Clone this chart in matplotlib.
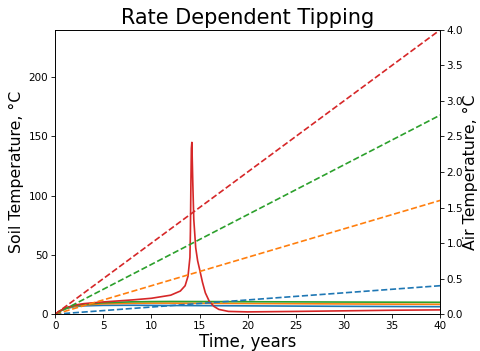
import numpy as np
import matplotlib.pyplot as plt

# soil temperature (left axis), one series per warming rate
t_soil = [0, 0.5, 1, 2, 3, 5, 8, 10, 12, 20, 30, 40]
soil_blue = [0, 2.5, 4.5, 6.3, 7.0, 7.4, 7.5, 7.4, 7.3, 7.0, 6.6, 6.3]
soil_orange = [0, 2.6, 4.7, 6.8, 7.8, 8.7, 9.2, 9.3, 9.3, 9.0, 8.6, 8.3]
soil_green = [0, 2.7, 4.9, 7.2, 8.4, 9.6, 10.4, 10.6, 10.7, 10.5, 10.2, 10.0]

t_red = [0, 0.5, 1, 2, 3, 5, 8, 10, 12, 13, 13.5, 13.8, 14.0, 14.05, 14.1, 14.15, 14.2,
         14.3, 14.4, 14.6, 14.8, 15.0, 15.3, 15.6, 16.0, 16.5, 17.0, 18.0, 20, 25, 30, 35, 40]
soil_red = [0, 2.8, 5.0, 7.6, 8.9, 10.3, 12.0, 13.4, 16.0, 19.5, 24, 32, 48, 70, 110, 140, 145,
            110, 80, 56, 45, 38, 27, 18, 11, 6.5, 4.0, 2.3, 1.9, 2.3, 2.8, 3.3, 3.6]

# air temperature (right axis), linear ramps
t_air = [0, 40]
air_blue = [0, 0.4]
air_orange = [0, 1.6]
air_green = [0, 2.8]
air_red = [0, 4.0]

plt.rcParams['lines.linewidth'] = 1.2
plt.rcParams['axes.linewidth'] = 0.6

fig = plt.figure(figsize=(4.8, 3.51), dpi=100)
ax = fig.add_axes([0.115, 0.105, 0.802, 0.81])
ax.plot(t_soil, soil_blue, color='tab:blue')
ax.plot(t_soil, soil_orange, color='tab:orange')
ax.plot(t_soil, soil_green, color='tab:green')
ax.plot(t_red, soil_red, color='tab:red')
ax.set_xlim(0, 40)
ax.set_ylim(0, 240)
ax.set_yticks([0, 50, 100, 150, 200])
ax.set_xlabel('Time, years', fontsize=12, labelpad=1)
ax.set_ylabel('Soil Temperature, °C', fontsize=11.3, labelpad=3)
ax.set_title('Rate Dependent Tipping', fontsize=15, pad=4)
ax.tick_params(labelsize=7.5, length=2.6, width=0.6, pad=2.5)

ax2 = ax.twinx()
ax2.plot(t_air, air_blue, '--', color='tab:blue')
ax2.plot(t_air, air_orange, '--', color='tab:orange')
ax2.plot(t_air, air_green, '--', color='tab:green')
ax2.plot(t_air, air_red, '--', color='tab:red')
ax2.set_ylim(0, 4.0)
ax2.set_yticks(np.arange(0, 4.01, 0.5))
ax2.set_ylabel('Air Temperature, °C', fontsize=11.3, labelpad=0)
ax2.tick_params(labelsize=7.5, length=2.6, width=0.6, pad=2)

fig.savefig('out.png', dpi=100)
